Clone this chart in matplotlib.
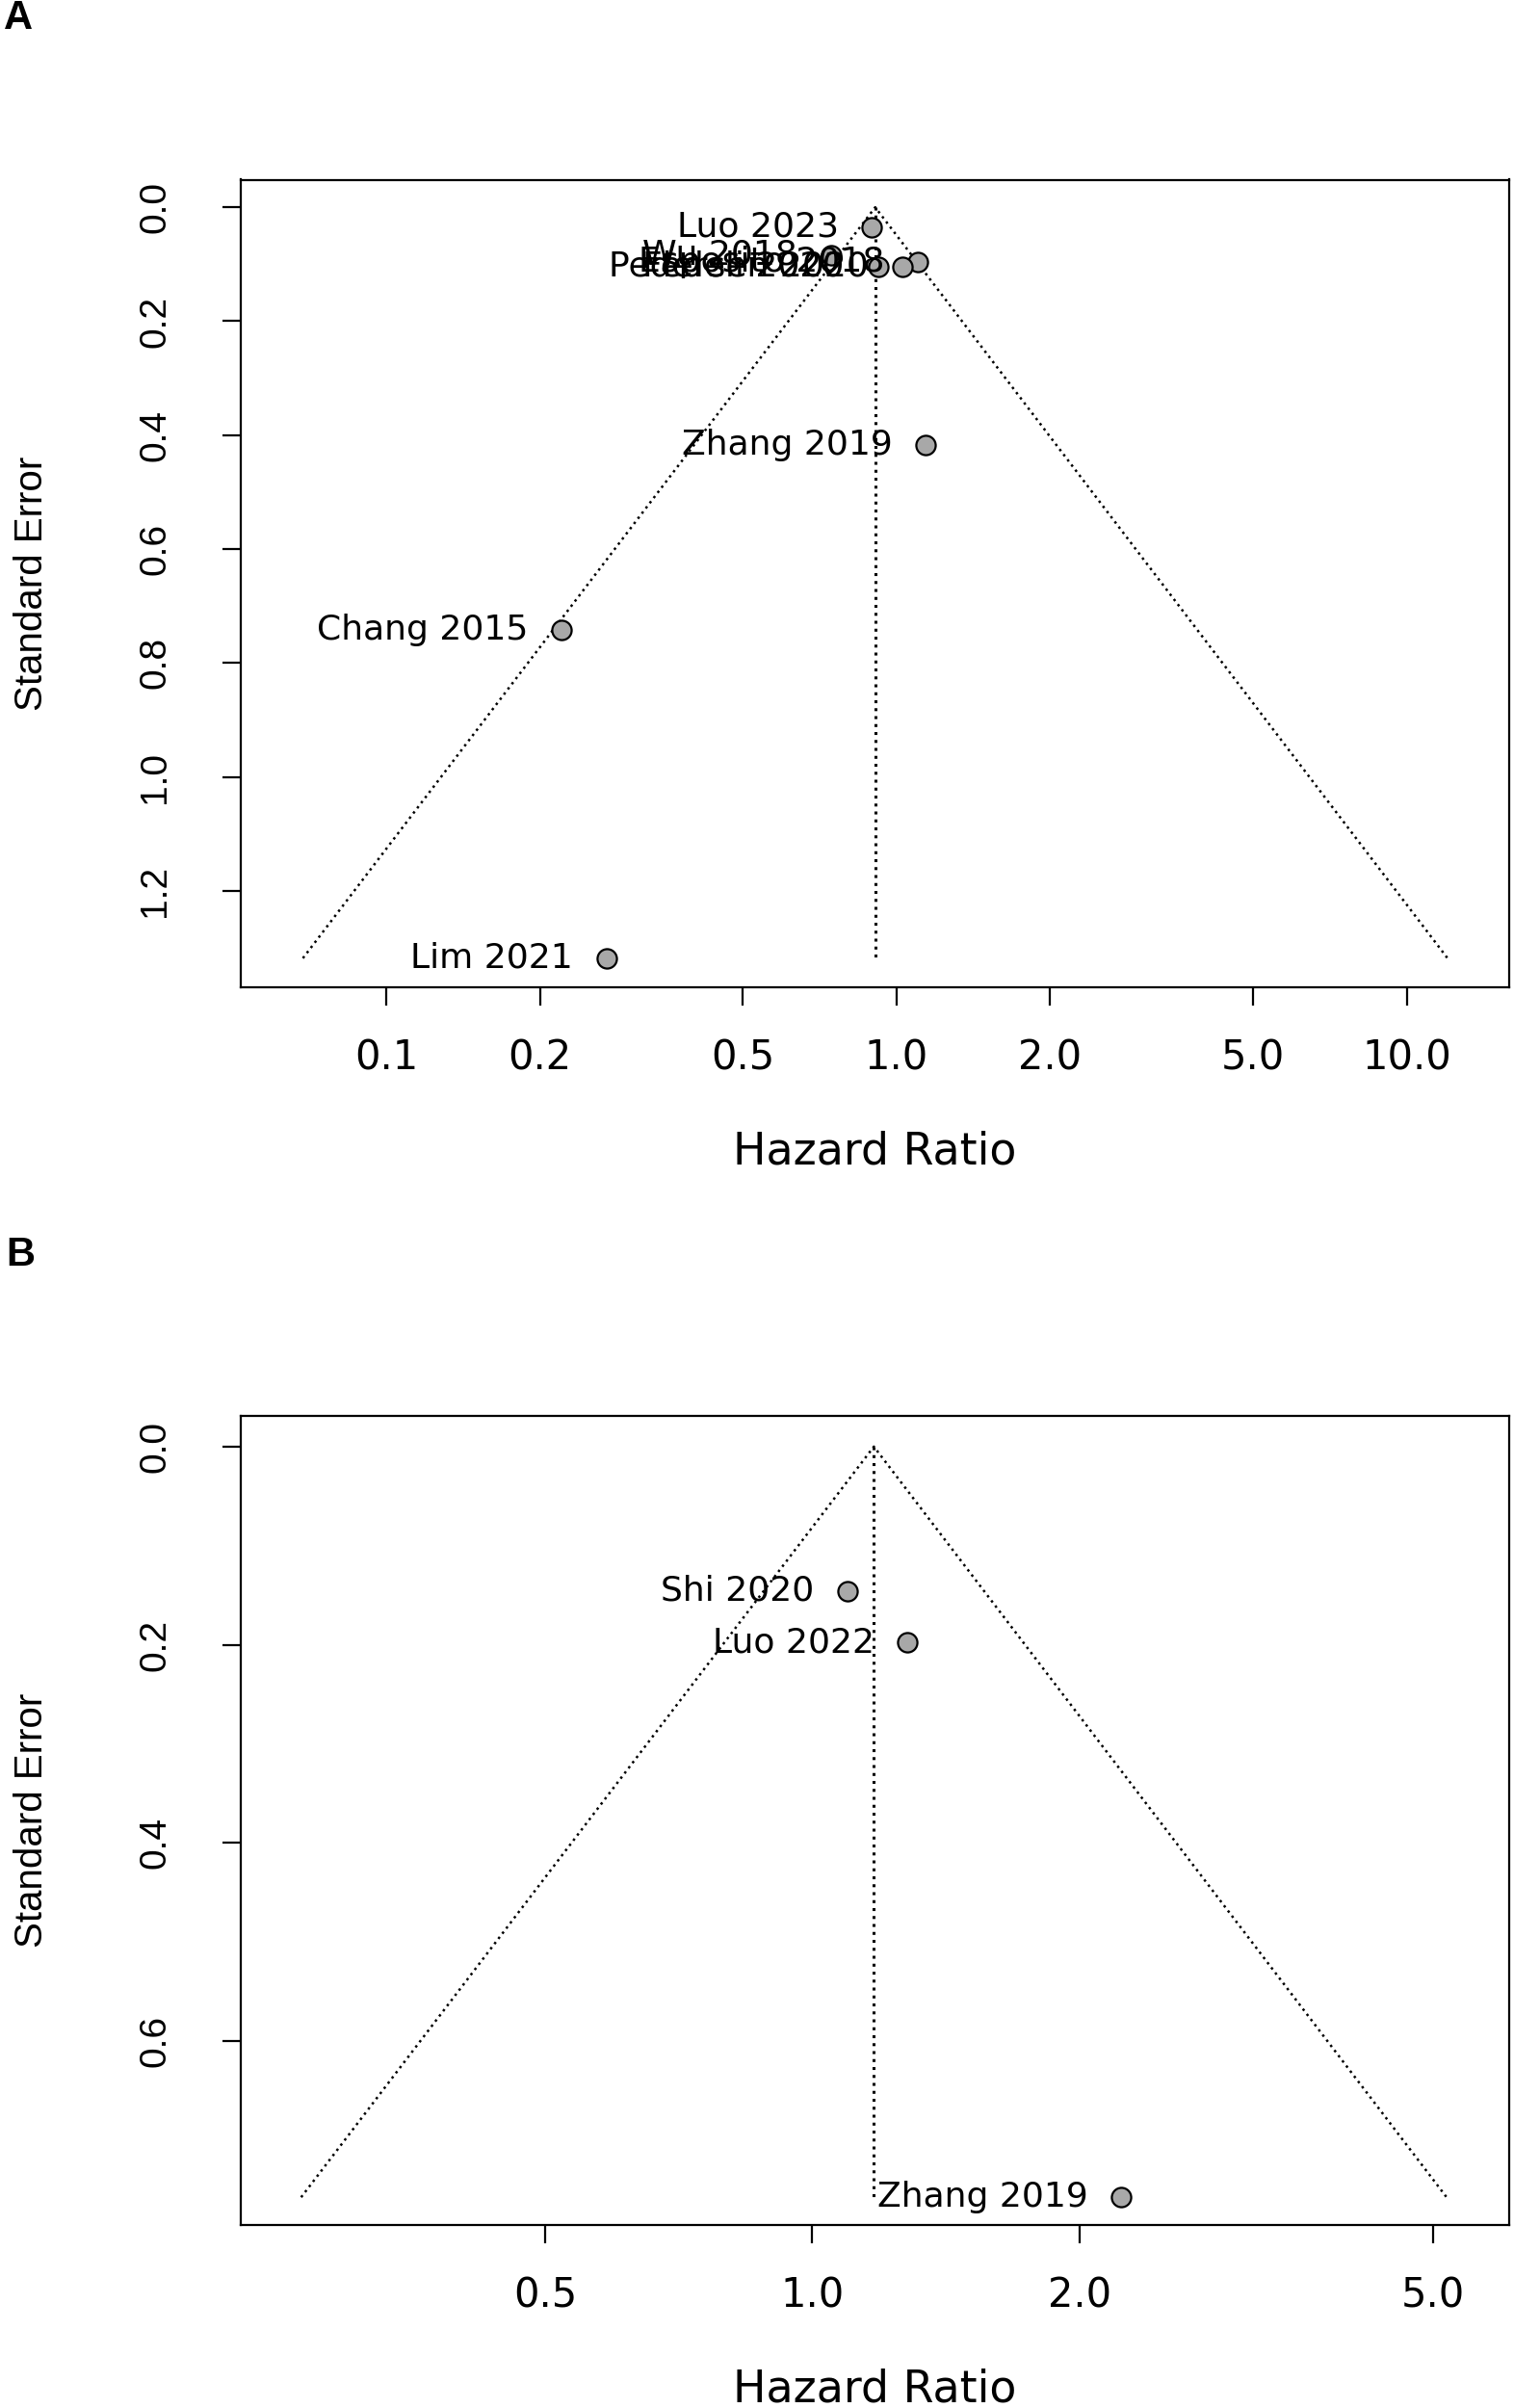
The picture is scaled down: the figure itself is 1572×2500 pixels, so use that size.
"""Funnel plots (panels A and B): study hazard ratios against standard error."""
import numpy as np
import matplotlib
matplotlib.use('Agg')
import matplotlib.pyplot as plt

plt.rcParams['font.family'] = ['Liberation Sans', 'DejaVu Sans']
WIDE = ['DejaVu Sans']   # horizontal texts in the reference look stretched sideways

# panel A
studies_a = ['Luo 2023', 'Wu 2018', 'Esposito 2018', 'Pedersen 2020', 'Fedeli 2020',
             'Zhang 2019', 'Chang 2015', 'Lim 2021']
hr_a = [0.895, 0.744, 1.101, 1.025, 0.919, 1.141, 0.220, 0.270]
se_a = [0.035, 0.084, 0.096, 0.104, 0.104, 0.418, 0.741, 1.318]
pooled_a = 0.908
xticks_a = [0.1, 0.2, 0.5, 1.0, 2.0, 5.0, 10.0]
yticks_a = [0.0, 0.2, 0.4, 0.6, 0.8, 1.0, 1.2]

# panel B
studies_b = ['Shi 2020', 'Luo 2022', 'Zhang 2019']
hr_b = [1.096, 1.28, 2.228]
se_b = [0.146, 0.198, 0.758]
pooled_b = 1.173
xticks_b = [0.5, 1.0, 2.0, 5.0]
yticks_b = [0.0, 0.2, 0.4, 0.6]

DOT = (0, (1, 1.7))


def funnel(ax, studies, hr, se, pooled, xticks, yticks, xlim, ylim):
    semax = max(se)
    lo = pooled * np.exp(-1.96 * semax)
    hi = pooled * np.exp(1.96 * semax)
    ax.plot([lo, pooled, hi], [semax, 0, semax], color='black', lw=1.8, ls=DOT)
    ax.plot([pooled, pooled], [0, semax], color='black', lw=2.2, ls=DOT)
    ax.plot(hr, se, ls='none', marker='o', markersize=14.5, markerfacecolor='#a8a8a8',
            markeredgecolor='black', markeredgewidth=1.6, zorder=3)
    for name, x, y in zip(studies, hr, se):
        ax.annotate(name, (x, y), xytext=(-25, 0), textcoords='offset points',
                    ha='right', va='center', fontsize=26, color='black', family=WIDE)

    ax.set_xscale('log')
    ax.set_xlim(*xlim)
    ax.set_ylim(*ylim)
    ax.set_xticks(xticks)
    ax.set_xticklabels(['{:.1f}'.format(t) for t in xticks], fontsize=30, family=WIDE)
    ax.xaxis.set_minor_locator(matplotlib.ticker.NullLocator())
    ax.set_yticks(yticks)
    ax.set_yticklabels(['{:.1f}'.format(t) for t in yticks], rotation=90, va='center',
                       fontsize=28)
    for s in ax.spines.values():
        s.set_linewidth(1.6)
    ax.tick_params(axis='both', direction='out', length=14, width=1.6)
    ax.tick_params(axis='x', pad=24)
    ax.tick_params(axis='y', pad=37)

    ax.set_xlabel('Hazard Ratio', fontsize=33, family=WIDE)
    ax.xaxis.label.set_va('center')
    ax.xaxis.set_label_coords(0.5, -0.204)
    ax.set_ylabel('Standard Error', fontsize=29)
    ax.yaxis.label.set_va('center')
    ax.yaxis.set_label_coords(-0.165, 0.5)


fig = plt.figure(figsize=(15.72, 25), dpi=100)
fig.patch.set_facecolor('white')

axA = fig.add_axes([0.159, 0.590, 0.838, 0.3354])
funnel(axA, studies_a, hr_a, se_a, pooled_a, xticks_a, yticks_a,
       (0.0518, 15.9), (1.369, -0.0485))

axB = fig.add_axes([0.159, 0.076, 0.838, 0.336])
funnel(axB, studies_b, hr_b, se_b, pooled_b, xticks_b, yticks_b,
       (0.227, 6.10), (0.786, -0.031))

fig.text(4 / 1572, 1 - 19 / 2500, 'A', fontsize=30, fontweight='bold', va='center', ha='left')
fig.text(6 / 1572, 1 - 1303 / 2500, 'B', fontsize=30, fontweight='bold', va='center', ha='left')

fig.savefig('out.png', dpi=100, facecolor='white')
